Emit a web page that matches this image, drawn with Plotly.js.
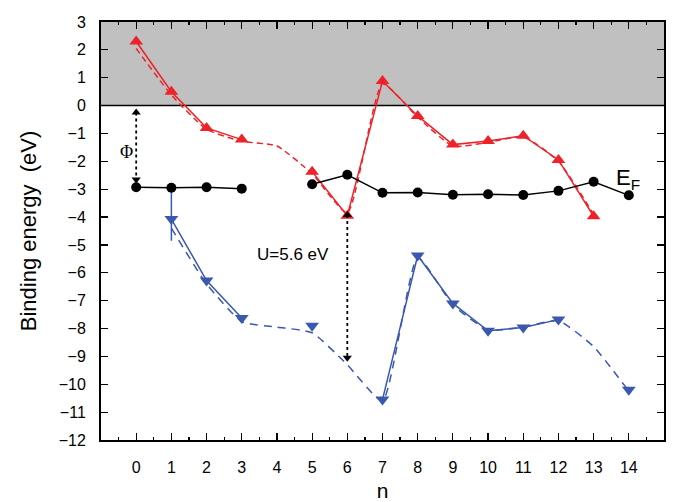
<!DOCTYPE html>
<html><head><meta charset="utf-8">
<script src="https://cdn.plot.ly/plotly-3.0.1.min.js"></script>
<style>body{margin:0;background:#fff}#chart{width:674px;height:502px}</style>
</head><body><div id="chart"></div>
<script>
// ---- data ----
const n = [0,1,2,3,4,5,6,7,8,9,10,11,12,13,14];
const tickLabels = ['0','1','2','3','4','5','6','7','8','9','10','11','12','13','14'];
const fermi      = [-2.93,-2.95,-2.93,-2.98,null,-2.82,-2.48,-3.13,-3.12,-3.2,-3.18,-3.21,-3.06,-2.73,-3.22];
const redSolid   = [2.3,0.5,-0.8,-1.22,null,-2.37,-3.95,0.88,-0.37,-1.4,-1.27,-1.08,-1.95,-3.97,null];
const redDashed  = [2.05,0.38,-0.85,-1.28,-1.45,-2.45,-3.85,0.78,-0.42,-1.45,-1.32,-1.12,-2.0,-3.9,null];
const blueMarks  = [null,-4.07,-6.28,-7.62,null,-7.9,null,-10.55,-5.38,-7.1,-8.08,-7.96,-7.68,null,-10.2];
const blueSolid  = [null,-4.07,-6.28,-7.62,null,null,null,-10.55,-5.38,-7.1,-8.08,-7.96,-7.68,null,null];
const blueDashed = [null,-4.4,-6.4,-7.75,-7.95,-8.15,-9.3,-10.6,-5.45,-7.15,-8.05,-7.95,-7.72,-8.65,-10.25];
const blueStemN  = [1,1];
const blueStemY  = [-3.0,-4.85];
const phiArrowN  = [0,0];
const phiArrowY  = [-0.25,-2.65];
const uArrowN    = [6,6];
const uArrowY    = [-3.93,-9.05];
const labelText  = ['Φ','U=5.6 eV','E<sub>F</sub>'];
const labelN     = [-0.27,4.45,13.97];
const labelY     = [-1.65,-5.35,-2.62];

const RED = '#ee2229', BLUE = '#3a58ad';
const traces = [
  {x:n,y:redDashed,mode:'lines',line:{color:RED,width:1.5,dash:'6px,4px',shape:'spline',smoothing:0.5},hoverinfo:'skip'},
  {x:n,y:blueDashed,mode:'lines',line:{color:BLUE,width:1.5,dash:'8px,6px',shape:'spline',smoothing:0.5},hoverinfo:'skip'},
  {x:n,y:redSolid,mode:'lines+markers',line:{color:RED,width:1.5},marker:{symbol:'triangle-up',size:12,color:RED}},
  {x:blueStemN,y:blueStemY,mode:'lines',line:{color:BLUE,width:1.5}},
  {x:n,y:blueSolid,mode:'lines',line:{color:BLUE,width:1.5}},
  {x:n,y:blueMarks,mode:'markers',marker:{symbol:'triangle-down',size:12,color:BLUE}},
  {x:n,y:fermi,mode:'lines+markers',line:{color:'#000',width:1.5},marker:{symbol:'circle',size:10,color:'#000'}},
  {x:phiArrowN,y:phiArrowY,mode:'lines+markers',line:{color:'#000',width:1.8,dash:'dot'},marker:{symbol:['triangle-up','triangle-down'],size:8,color:'#000'}},
  {x:uArrowN,y:uArrowY,mode:'lines+markers',line:{color:'#000',width:1.8,dash:'dot'},marker:{symbol:['triangle-up','triangle-down'],size:8,color:'#000'}}
];
const annotations = labelText.map((t,i)=>({x:labelN[i],y:labelY[i],text:t,showarrow:false,
  font:{family: i===0 ? 'Liberation Serif, serif' : 'Liberation Sans, Arial, sans-serif', size: i===2?22:(i===0?18:17), color:'#000'}}));

const layout = {
  width:674,height:502,
  margin:{l:101,r:10,t:22,b:62},
  paper_bgcolor:'#fff',plot_bgcolor:'#fff',
  showlegend:false,
  font:{family:'Liberation Sans, Arial, sans-serif',color:'#000',size:16},
  xaxis:{range:[-1,15],tickvals:n,ticktext:tickLabels,ticks:'inside',ticklen:7,tickwidth:1.2,tickcolor:'#000',
    showline:true,linewidth:2,linecolor:'#000',mirror:'ticks',showgrid:false,zeroline:false,
    minor:{dtick:0.5,tick0:0,ticks:'inside',ticklen:3,tickcolor:'#000'},
    ticklabelstandoff:12,tickfont:{size:16},
    title:{text:'n',font:{size:21},standoff:14}},
  yaxis:{range:[-12,3],dtick:1,tick0:0,ticks:'inside',ticklen:7,tickwidth:1.2,tickcolor:'#000',
    showline:true,linewidth:2,linecolor:'#000',mirror:'ticks',showgrid:false,zeroline:false,
    ticklabelstandoff:10,tickfont:{size:16},
    title:{text:'Binding energy\u00a0 (eV)',font:{size:22},standoff:16}},
  shapes:[
    {type:'rect',xref:'paper',x0:0,x1:1,yref:'y',y0:0,y1:3,fillcolor:'#c0c0c0',line:{width:0},layer:'below'},
    {type:'line',xref:'paper',x0:0,x1:1,yref:'y',y0:0,y1:0,line:{color:'#000',width:1.5},layer:'below'}
  ],
  annotations:annotations
};
Plotly.newPlot('chart',traces,layout,{displayModeBar:false,staticPlot:true});
</script></body></html>
